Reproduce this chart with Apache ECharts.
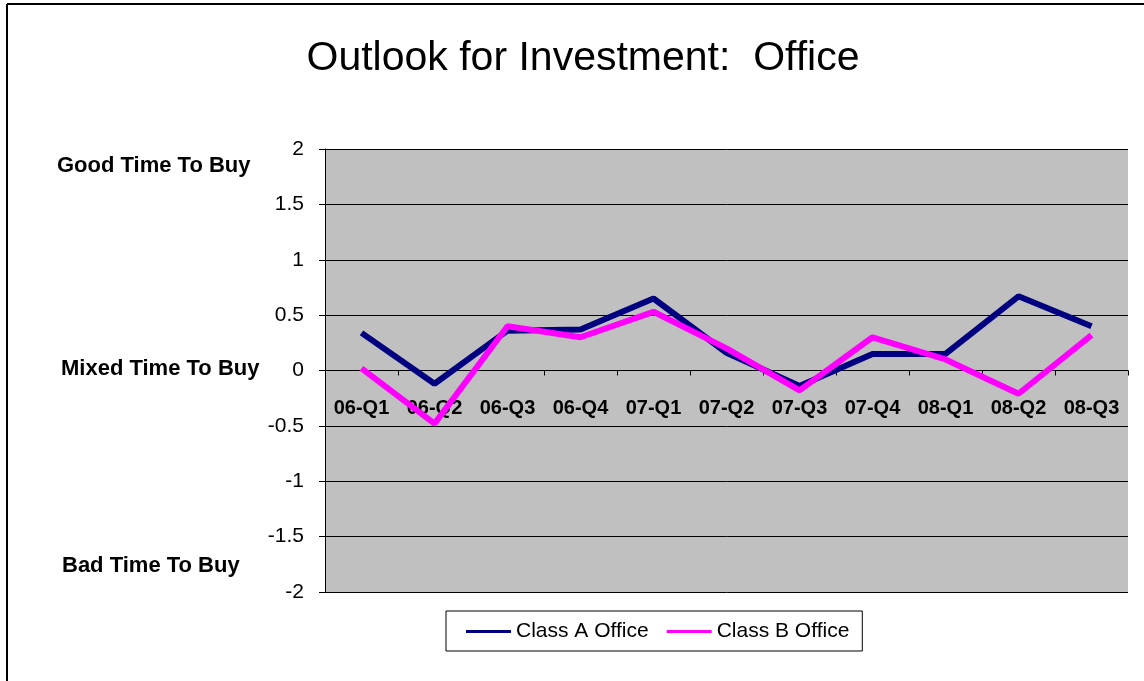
<!DOCTYPE html>
<html>
<head>
<meta charset="utf-8">
<script src="https://cdn.jsdelivr.net/npm/echarts@6/dist/echarts.min.js"></script>
<style>
  html, body { margin: 0; padding: 0; background: #fff; }
  #chart { width: 1144px; height: 681px; }
</style>
</head>
<body>
<div id="chart"></div>
<script>
const quarters = ['06-Q1', '06-Q2', '06-Q3', '06-Q4', '07-Q1', '07-Q2', '07-Q3', '07-Q4', '08-Q1', '08-Q2', '08-Q3'];
const classA = [0.34, -0.12, 0.36, 0.37, 0.65, 0.16, -0.14, 0.15, 0.15, 0.67, 0.40];
const classB = [0.02, -0.48, 0.40, 0.30, 0.53, 0.20, -0.18, 0.30, 0.10, -0.21, 0.32];
const sideLabels = ['Good Time To Buy', 'Mixed Time To Buy', 'Bad Time To Buy'];

const font = '"Liberation Sans", Arial, sans-serif';
const chart = echarts.init(document.getElementById('chart'));

// left-hand annotations (x, y of text centre line)
const sidePos = [[57, 166], [61, 369], [62, 566]];

const option = {
  backgroundColor: '#fff',
  animation: false,
  textStyle: { fontFamily: font },
  title: {
    text: 'Outlook for Investment:  Office',
    left: 578,
    textAlign: 'center',
    top: 33,
    textStyle: { fontSize: 41, fontWeight: 'normal', color: '#000', fontFamily: font }
  },
  grid: {
    left: 325,
    top: 149,
    right: 16,
    bottom: 89,
    show: true,
    backgroundColor: '#c0c0c0',
    borderWidth: 0
  },
  legend: {
    left: 446,
    top: 611,
    padding: [10, 13, 9, 20],
    itemGap: 18,
    itemWidth: 45,
    itemHeight: 3,
    borderColor: '#000',
    borderWidth: 1,
    textStyle: { fontSize: 21, color: '#000', fontFamily: font },
    data: [
      { name: 'Class A Office', icon: 'rect' },
      { name: 'Class B Office', icon: 'rect' }
    ]
  },
  xAxis: {
    type: 'category',
    data: quarters,
    boundaryGap: true,
    axisLine: { onZero: true, lineStyle: { color: '#000', width: 1 } },
    axisTick: { show: true, length: 5, lineStyle: { color: '#000' } },
    axisLabel: {
      margin: -194,
      fontSize: 20,
      fontWeight: 'bold',
      color: '#000',
      fontFamily: font,
      interval: 0
    },
    splitLine: { show: false }
  },
  yAxis: {
    type: 'value',
    min: -2,
    max: 2,
    interval: 0.5,
    axisLine: { show: true, onZero: false, lineStyle: { color: '#000', width: 1 } },
    axisTick: { show: true, length: 6, lineStyle: { color: '#000' } },
    axisLabel: { fontSize: 21, color: '#000', margin: 21, fontFamily: font },
    splitLine: { show: true, lineStyle: { color: '#000', width: 1 } }
  },
  series: [
    {
      name: 'Class A Office',
      type: 'line',
      data: classA,
      showSymbol: false,
      symbol: 'none',
      color: '#000080',
      lineStyle: { color: '#000080', width: 6 },
      z: 2
    },
    {
      name: 'Class B Office',
      type: 'line',
      data: classB,
      showSymbol: false,
      symbol: 'none',
      color: '#ff00ff',
      lineStyle: { color: '#ff00ff', width: 6 },
      z: 3
    }
  ],
  graphic: [
    {
      type: 'line',
      shape: { x1: 7, y1: 4, x2: 1144, y2: 4 },
      style: { stroke: '#000', lineWidth: 2 }
    },
    {
      type: 'line',
      shape: { x1: 7, y1: 4, x2: 7, y2: 681 },
      style: { stroke: '#000', lineWidth: 2 }
    }
  ].concat(sideLabels.map((t, i) => ({
    type: 'text',
    x: sidePos[i][0],
    y: sidePos[i][1],
    style: { text: t, fill: '#000', font: 'bold 22px ' + font, verticalAlign: 'middle' }
  })))
};

chart.setOption(option);
</script>
</body>
</html>
